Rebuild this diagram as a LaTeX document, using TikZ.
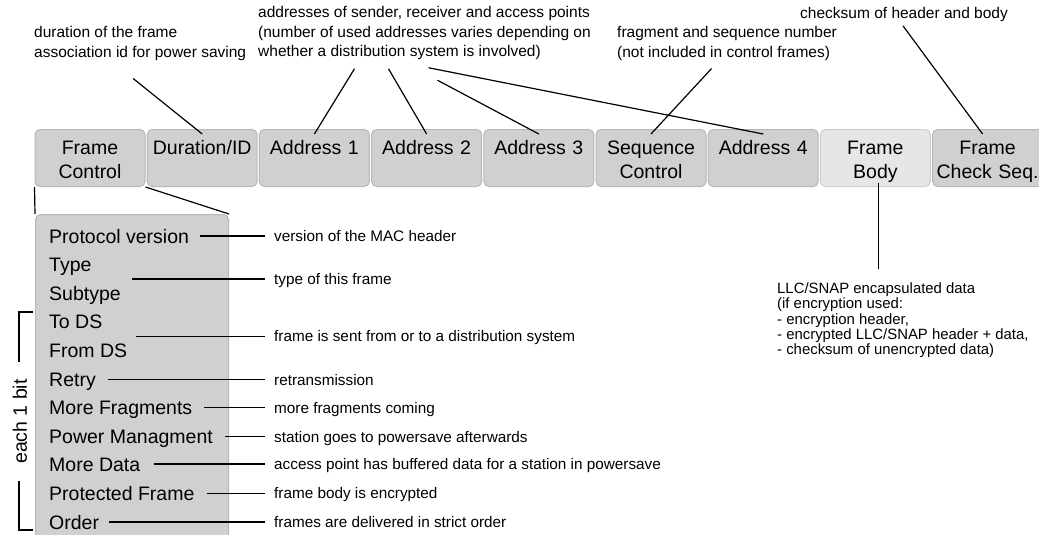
\documentclass[tikz,border=0pt]{standalone}
\usepackage{fontspec}
\setmainfont{Liberation Sans}
\usetikzlibrary{positioning,calc}
\definecolor{boxfill}{HTML}{D0D0D0}
\definecolor{boxline}{HTML}{B8B8B8}
\definecolor{bodyfill}{HTML}{E6E6E6}
\definecolor{bodyline}{HTML}{CFCFCF}
\tikzset{
	hdr/.style={
			draw=boxline, fill=boxfill, line width=1pt, rounded corners=5pt,
			text width=106pt, align=center, inner xsep=2pt, inner ysep=2.5pt,
			text height=22pt, text depth=30pt, font=\fontsize{19.5}{24}\selectfont
		},
	fcbox/.style={
			draw=boxline, fill=boxfill, line width=1pt, rounded corners=5pt,
			minimum width=193pt, minimum height=340pt, inner sep=0pt
		},
	field/.style={anchor=west, inner sep=0pt, text height=14pt, text depth=0pt, font=\fontsize{19.5}{24}\selectfont},
	note/.style={anchor=west, inner xsep=9pt, inner ysep=0pt, text height=11pt, text depth=0pt, font=\fontsize{15.3}{19.7}\selectfont},
	txt/.style={anchor=north west, inner sep=0pt, align=left, font=\fontsize{15.5}{19.7}\selectfont},
	link/.style={draw=black, line width=1.2pt}
}

\begin{document}
\begin{tikzpicture}[x=1pt, y=-1pt]
			\useasboundingbox (0,0) rectangle (1039,535);

			% header fields
			\node[hdr, anchor=north west] (fc) at (34.5,129) {Frame\\Control};
			\node[hdr, right=1.2pt of fc] (dur) {Duration/ID};
			\node[hdr, right=1.2pt of dur] (a1) {Address 1};
			\node[hdr, right=1.2pt of a1] (a2) {Address 2};
			\node[hdr, right=1.2pt of a2] (a3) {Address 3};
			\node[hdr, right=1.2pt of a3] (seq) {Sequence\\Control};
			\node[hdr, right=1.2pt of seq] (a4) {Address 4};
			\node[hdr, right=1.2pt of a4, fill=bodyfill, draw=bodyline] (body) {Frame\\Body};
			\node[hdr, right=1.2pt of body] (fcs) {Frame\\Check Seq.};

			% frame control in detail
			\node[fcbox, anchor=north west] (fcb) at (35,214) {};
			\draw[link] (fc.south west) to (fcb.north west);
			\draw[link] (fc.south east) to (fcb.north east);

			\node[field] (pv) at (49,236) {Protocol version};
			\node[field] (ty) at (49,264.6) {Type};
			\node[field] (st) at (49,293.2) {Subtype};
			\node[field] (tods) at (49,321.8) {To DS};
			\node[field] (fromds) at (49,350.4) {From DS};
			\node[field] (retry) at (49,379) {Retry};
			\node[field] (morefrag) at (49,407.6) {More Fragments};
			\node[field] (pwr) at (49,436.2) {Power Managment};
			\node[field] (moredata) at (49,464.8) {More Data};
			\node[field] (prot) at (49,493.4) {Protected Frame};
			\node[field] (order) at (49,522) {Order};

			\node[note] (pvn) at (265,236) {version of the MAC header};
			\node[note] (tyn) at (265,278.9) {type of this frame};
			\node[note] (dsn) at (265,336.1) {frame is sent from or to a distribution system};
			\node[note] (retryn) at (265,379.5) {retransmission};
			\node[note] (morefragn) at (265,407.6) {more fragments coming};
			\node[note] (pwrn) at (265,436.6) {station goes to powersave afterwards};
			\node[note] (moredatan) at (265,464) {access point has buffered data for a station in powersave};
			\node[note] (protn) at (265,493.4) {frame body is encrypted};
			\node[note] (ordern) at (265,522) {frames are delivered in strict order};

			\draw[link] ([xshift=11pt]pv.east) to (pvn.west);
			\draw[link] ($(st.east |- tyn.west)+(11,0)$) to (tyn.west);
			\draw[link] ($(fromds.east |- dsn.west)+(9,0)$) to (dsn.west);
			\draw[link] ($(retry.east |- retryn.west)+(12,0)$) to (retryn.west);
			\draw[link] ($(morefrag.east |- morefragn.west)+(12,0)$) to (morefragn.west);
			\draw[link] ($(pwr.east |- pwrn.west)+(12,0)$) to (pwrn.west);
			\draw[link] ($(moredata.east |- moredatan.west)+(14,0)$) to (moredatan.west);
			\draw[link] ($(prot.east |- protn.west)+(12,0)$) to (protn.west);
			\draw[link] ($(order.east |- ordern.west)+(10,0)$) to (ordern.west);

			% bracket for the flag bits
			\node[field, anchor=center, rotate=90] (bits) at (20,421.5) {each 1 bit};
			\draw[link] (33,312) -- (19,312) -- ($(bits.east)+(-1,-17)$);
			\draw[link] ($(bits.west)+(-1,17)$) -- (19,530) -- (33,530);

			% explanations above
			\node[txt] (durtxt) at (34,26) {duration of the frame\\association id for power saving};
			\node[txt] (addrtxt) at (258,6) {addresses of sender, receiver and access points\\(number of used addresses varies depending on\\whether a distribution system is involved)};
			\node[txt] (seqtxt) at (617,26) {fragment and sequence number\\(not included in control frames)};
			\node[txt] (fcstxt) at (800,7) {checksum of header and body};
			\node[txt, font=\fontsize{14.9}{15.3}\selectfont] (llctxt) at (777,282.5) {LLC/SNAP encapsulated data\\(if encryption used:\\- encryption header,\\- encrypted LLC/SNAP header + data,\\- checksum of unencrypted data)};

			\draw[link] ($(durtxt.south)+(-7,18)$) to ($(dur.north)+(0,5)$);
			\draw[link] ($(addrtxt.south)+(-70,8.5)$) to ($(a1.north)+(0,5)$);
			\draw[link] ($(addrtxt.south)+(-36,8.5)$) to ($(a2.north)+(0,5)$);
			\draw[link] ($(addrtxt.south)+(13,20)$) to ($(a3.north)+(0,5)$);
			\draw[link] ($(addrtxt.south)+(4,7.5)$) to ($(a4.north)+(0,5)$);
			\draw[link] ($(seqtxt.south)+(-15.5,8)$) to ($(seq.north)+(0,5)$);
			\draw[link] ($(fcstxt.south)+(-1,4)$) to ($(fcs.north)+(-5,5)$);
			\draw[link] ($(body.south)+(3,-4)$) to ($(body.south |- llctxt.north)+(3,-14)$);
		\end{tikzpicture}
\end{document}
